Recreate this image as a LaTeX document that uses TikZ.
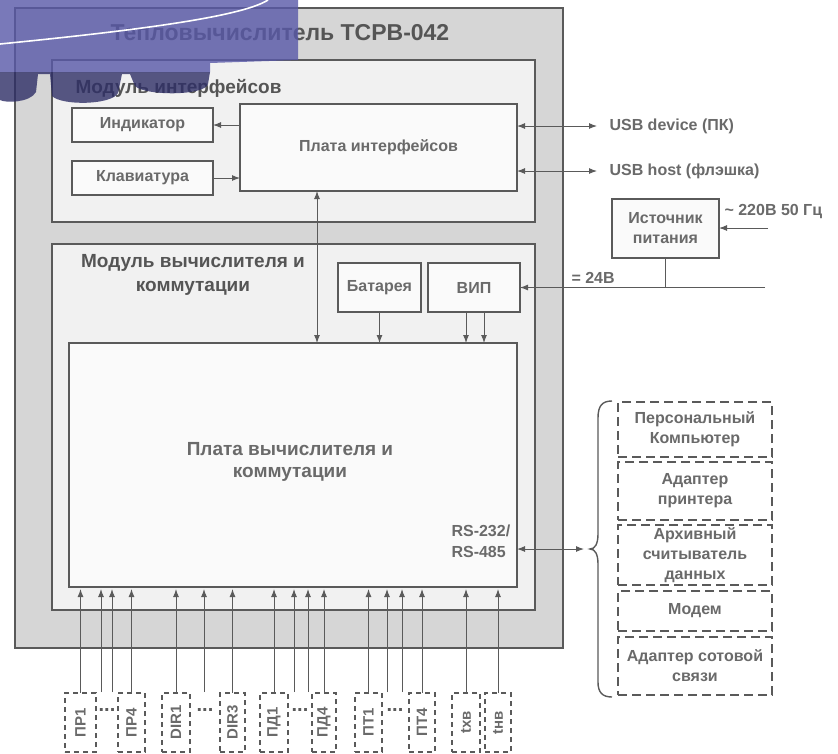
\documentclass[tikz,border=0pt]{standalone}
\usepackage{fontspec}
\setmainfont{Liberation Sans}
\usepackage{graphicx}
\usetikzlibrary{arrows.meta}
\definecolor{ln}{HTML}{5A5A5A}
\definecolor{tx}{HTML}{6A6A6A}
\definecolor{tt}{HTML}{555555}
\definecolor{outerfill}{HTML}{D6D6D6}
\definecolor{modfill}{HTML}{F1F1F1}
\definecolor{boxfill}{HTML}{FAFAFA}
\definecolor{logo}{HTML}{5858A8}
\definecolor{logodark}{HTML}{2E2E66}
\begin{document}
\begin{tikzpicture}[x=1pt,y=-1pt,
  frame/.style={draw=ln, line width=1.2pt, inner sep=0pt, outer sep=0pt, anchor=north west},
  box/.style={frame, fill=boxfill, text=tx, align=center, font=\fontsize{16}{19}\selectfont\bfseries},
  extbox/.style={draw=ln, line width=1.3pt, dash pattern=on 9pt off 5pt, fill=white, inner sep=0pt, outer sep=0pt, anchor=north west, minimum width=154pt, text=tx, align=center, font=\fontsize{16}{20}\selectfont\bfseries},
  sens/.style={draw=ln, line width=1.1pt, dash pattern=on 5pt off 4pt, fill=white, inner sep=0pt, outer sep=0pt, anchor=north west, minimum height=59pt, text=tx, font=\fontsize{15}{18}\selectfont\bfseries},
  lbl/.style={text=tx, font=\fontsize{16}{19}\selectfont\bfseries},
  arr/.style={draw=ln, line width=1pt, -{Latex[length=8pt,width=6pt]}},
  barr/.style={draw=ln, line width=1pt, {Latex[length=8pt,width=6pt]}-{Latex[length=8pt,width=6pt]}},
  dots/.style={text=ln, font=\fontsize{20}{20}\selectfont\bfseries}
]
\useasboundingbox (0,0) rectangle (838,753);
\fill[white] (0,0) rectangle (838,753);

% outer device
\node[frame, fill=outerfill, minimum width=548pt, minimum height=640pt] (outer) at (15,8) {};
\node[text=tt, font=\fontsize{23}{27}\selectfont\bfseries] (title) at (280,33) {Тепловычислитель ТСРВ-042};

% interface module
\node[frame, fill=modfill, minimum width=483pt, minimum height=162pt] (modI) at (52,60) {};
\node[anchor=west, text=tt, font=\fontsize{19}{23}\selectfont\bfseries] (modIl) at (72,88) {Модуль интерфейсов};
\node[box, minimum width=141pt, minimum height=34pt] (ind) at (72,108) {Индикатор};
\node[box, minimum width=141pt, minimum height=34pt] (kbd) at (72,161) {Клавиатура};
\node[box, minimum width=277pt, minimum height=87pt] (pi) at (240,104) {Плата интерфейсов};

% computing module
\node[frame, fill=modfill, minimum width=483pt, minimum height=366pt] (modC) at (52,244) {};
\node[align=center, text=tt, font=\fontsize{19}{24}\selectfont\bfseries] (modCl) at (193,275) {Модуль вычислителя и\\коммутации};
\node[box, minimum width=83pt, minimum height=49pt] (bat) at (338,263) {Батарея};
\node[box, minimum width=92pt, minimum height=49pt] (vip) at (428,263) {ВИП};
\node[box, minimum width=448pt, minimum height=244pt] (pc) at (69,343) {};
\node[align=center, text=tx, font=\fontsize{19}{22}\selectfont\bfseries] (pcl) at (290,462) {Плата вычислителя и\\коммутации};
\node[anchor=west, align=left, text=tx, font=\fontsize{16}{21}\selectfont\bfseries] (rs) at (448,541) {RS-232/\\RS-485};

% power supply
\node[box, minimum width=107pt, minimum height=59pt, font=\fontsize{16}{20}\selectfont\bfseries] (src) at (612,199) {Источник\\питания};
\node[lbl, anchor=west] (acl) at (721,212) {\textasciitilde{} 220В 50 Гц};
\coordinate (in220) at (768,228);
\coordinate (p24) at (765,288);
\node[lbl, anchor=west] (dcl) at (568,278) {= 24В};

% USB
\coordinate (usbD) at (597,126);
\coordinate (usbH) at (597,171);
\node[lbl, anchor=west] (usbDl) at (606,126) {USB device (ПК)};
\node[lbl, anchor=west] (usbHl) at (606,171) {USB host (флэшка)};

% external devices
\node[extbox, minimum height=55pt] (e1) at (618,402) {Персональный\\Компьютер};
\node[extbox, minimum height=58pt] (e2) at (618,462) {Адаптер\\принтера};
\node[extbox, minimum height=60pt] (e3) at (618,525) {Архивный\\считыватель\\данных};
\node[extbox, minimum height=40pt] (e4) at (618,591) {Модем};
\node[extbox, minimum height=58pt] (e5) at (618,637) {Адаптер сотовой\\связи};
\coordinate (bt) at (590,549);
\draw[ln, line width=1.4pt] (612,401) .. controls (602,401) and (598,406) .. (598,418) -- (598,534) .. controls (598,544) and (595,549) .. (bt) .. controls (595,549) and (598,554) .. (598,564) -- (598,682) .. controls (598,692) and (602,697) .. (612,697);

% sensors
\node[sens, minimum width=31pt] (s1) at (65,693) {\rotatebox{90}{ПР1}};
\node[sens, minimum width=27pt] (s4) at (118,693) {\rotatebox{90}{ПР4}};
\node[sens, minimum width=28pt] (d1) at (162,693) {\rotatebox{90}{DIR1}};
\node[sens, minimum width=25pt] (d3) at (220,693) {\rotatebox{90}{DIR3}};
\node[sens, minimum width=28pt] (pd1) at (260,693) {\rotatebox{90}{ПД1}};
\node[sens, minimum width=24pt] (pd4) at (312,693) {\rotatebox{90}{ПД4}};
\node[sens, minimum width=27pt] (pt1) at (355,693) {\rotatebox{90}{ПТ1}};
\node[sens, minimum width=26pt] (pt4) at (409,693) {\rotatebox{90}{ПТ4}};
\node[sens, minimum width=28pt] (txv) at (452,693) {\rotatebox{90}{tхв}};
\node[sens, minimum width=26pt] (tnv) at (485,693) {\rotatebox{90}{tнв}};
\node[dots] (dt1) at (107,710) {...};
\node[dots] (dt2) at (205,710) {...};
\node[dots] (dt3) at (300,710) {...};
\node[dots] (dt4) at (395,710) {...};
\coordinate (c1) at (101,692);
\coordinate (c2) at (112,692);
\coordinate (c3) at (204,692);
\coordinate (c4) at (294,692);
\coordinate (c5) at (308,692);
\coordinate (c6) at (387,692);
\coordinate (c7) at (402,692);
\foreach \n in {s1,s4,d1,d3,pd1,pd4,pt1,pt4,txv,tnv}
  \draw[arr, shorten >=2pt] (\n.north) -- (\n.north |- pc.south);
\foreach \n in {c1,c2,c3,c4,c5,c6,c7}
  \draw[arr, shorten >=2pt] (\n) -- (\n |- pc.south);

% connectors
\coordinate (vx) at (317,0);
\coordinate (v1) at (466,0);
\coordinate (v2) at (484,0);
\draw[arr] (pi.west |- ind.east) -- (ind.east);
\draw[arr] (kbd.east) -- (kbd.east -| pi.west);
\draw[barr] (pi.east |- usbD) -- (usbD);
\draw[barr] (pi.east |- usbH) -- (usbH);
\draw[barr] (pi.south -| vx) -- (pc.north -| vx);
\draw[arr] (bat.south) -- (bat.south |- pc.north);
\draw[arr] (vip.south -| v1) -- (pc.north -| v1);
\draw[arr] (vip.south -| v2) -- (pc.north -| v2);
\draw[arr] (in220) -- (in220 -| src.east);
\draw[arr] (p24 |- vip.east) -- (vip.east);
\draw[draw=ln, line width=1pt] (src.south) -- (src.south |- vip.east);
\draw[barr, shorten >=6pt] (pc.east |- bt) -- (bt);

% logo overlay
\fill[logo, opacity=0.8] (0,0) -- (298,0) -- (298,60) -- (210,63) -- (210,72) -- (0,72) -- cycle;
\fill[logodark, opacity=0.8] (210,72) -- (208,84) .. controls (205,96) and (145,96) .. (135,86) -- (130,74) -- (122,74) -- (118,93) .. controls (112,105) and (62,106) .. (52,96) -- (50,74) -- (38,74) -- (36,92) .. controls (30,103) and (5,103) .. (0,100) -- (0,72) -- cycle;
\draw[white, line width=1.6pt] (0,44) .. controls (120,32) and (240,18) .. (268,0);
\end{tikzpicture}
\end{document}
